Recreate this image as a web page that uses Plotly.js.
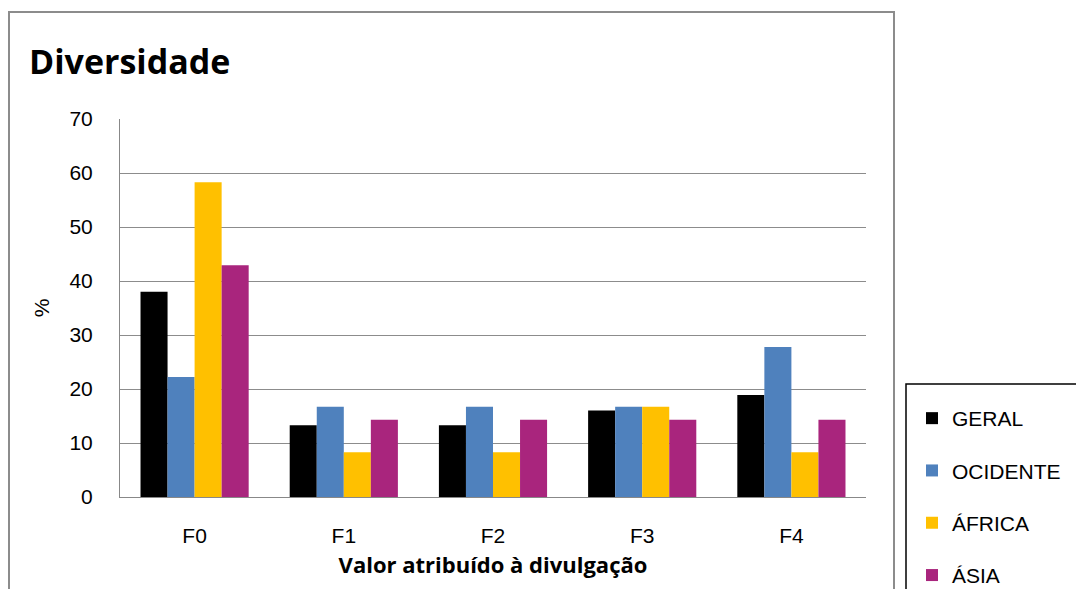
<!DOCTYPE html>
<html>
<head>
<meta charset="utf-8">
<script src="https://cdn.plot.ly/plotly-3.0.1.min.js"></script>
<style>html,body{margin:0;padding:0;background:#fff;}#chart{width:1076px;height:589px;}</style>
</head>
<body>
<div id="chart"></div>
<script>
const categories = ["F0", "F1", "F2", "F3", "F4"];
const seriesNames = ["GERAL", "OCIDENTE", "ÁFRICA", "ÁSIA"];
const geral = [38.0, 13.3, 13.3, 16.0, 18.9];
const ocidente = [22.2, 16.7, 16.7, 16.7, 27.8];
const africa = [58.3, 8.3, 8.3, 16.7, 8.3];
const asia = [42.9, 14.3, 14.3, 14.3, 14.3];
const yTicks = [0, 10, 20, 30, 40, 50, 60, 70];

const colors = ["#000000", "#4f81bd", "#ffc000", "#a9257d"];
const values = [geral, ocidente, africa, asia];

const traces = values.map((v, i) => ({
  type: "bar",
  name: seriesNames[i],
  x: categories,
  y: v,
  marker: {color: colors[i], line: {width: 0}},
  legendgroup: "g" + i,
  hoverinfo: "x+y+name"
}));

const L = 120, R = 866, T = 119, B = 497;
const W = 1076, H = 589;
function px(x) { return (x - L) / (R - L); }
function py(y) { return (B - y) / (B - T); }

const tickFont = {family: "Liberation Sans, Arial, sans-serif", size: 21, color: "#000"};

const layout = {
  width: W, height: H,
  margin: {l: L, r: W - R, t: T, b: H - B, pad: 0, autoexpand: false},
  paper_bgcolor: "#ffffff",
  plot_bgcolor: "#ffffff",
  barmode: "group",
  bargap: 0.275,
  bargroupgap: 0,
  font: {family: "Liberation Sans, Arial, sans-serif", color: "#000"},
  title: {
    text: "<b>Diversidade</b>",
    font: {family: "Open Sans, sans-serif", size: 34, color: "#000"},
    xref: "container", x: 29 / W, xanchor: "left",
    yref: "container", y: 1 - 62 / H, yanchor: "middle"
  },
  xaxis: {
    type: "category",
    showgrid: false,
    showline: true, linecolor: "#888", linewidth: 1,
    ticks: "",
    tickfont: tickFont,
    ticklabelstandoff: 20,
    automargin: false,
    title: {text: "<b>Valor atribuído à divulgação</b>", font: {family: "Open Sans, sans-serif", size: 22, color: "#000"}, standoff: 11},
    fixedrange: true
  },
  yaxis: {
    range: [0, 70],
    tickvals: yTicks,
    showgrid: true, gridcolor: "#8c8c8c", gridwidth: 1,
    showline: true, linecolor: "#888", linewidth: 1,
    zeroline: false,
    ticks: "", ticklabelstandoff: 22,
    automargin: false,
    tickfont: tickFont,
    title: {text: "%", font: {family: "Liberation Sans, Arial, sans-serif", size: 21, color: "#000"}, standoff: 14},
    fixedrange: true
  },
  showlegend: true,
  legend: {
    x: px(912), xanchor: "left",
    y: py(398), yanchor: "top",
    bgcolor: "rgba(0,0,0,0)",
    borderwidth: 0,
    font: {family: "Liberation Sans, Arial, sans-serif", size: 21, color: "#000"},
    tracegroupgap: 22,
    itemwidth: 30,
    traceorder: "grouped"
  },
  shapes: [
    {type: "rect", xref: "paper", yref: "paper",
     x0: px(9), x1: px(894), y0: py(620), y1: py(12),
     line: {color: "#8c8c8c", width: 2}, fillcolor: "rgba(0,0,0,0)", layer: "below"},
    {type: "rect", xref: "paper", yref: "paper",
     x0: px(906), x1: px(1100), y0: py(620), y1: py(384),
     line: {color: "#000", width: 1.5}, fillcolor: "rgba(0,0,0,0)", layer: "below"}
  ]
};

Plotly.newPlot("chart", traces, layout, {displayModeBar: false, staticPlot: true});
</script>
</body>
</html>
